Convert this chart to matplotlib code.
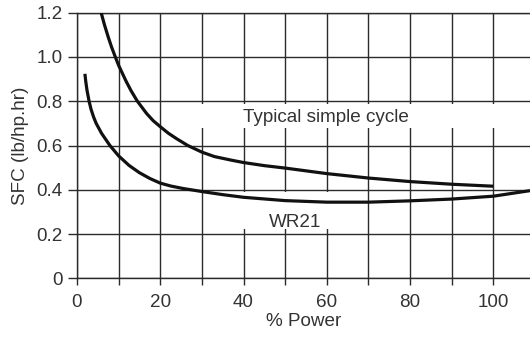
import matplotlib
matplotlib.use("Agg")
import matplotlib.pyplot as plt
from matplotlib.patches import Rectangle

# Data
typ_x = [5.8, 6.6, 7.5, 8.3, 9.2, 10.0, 11.8, 13.0, 14.5, 16.7, 18.3, 20.0, 21.9, 23.9, 26.6, 30.0, 33.0, 37.0, 40.0, 45.0, 50.0, 60.0, 70.0, 80.0, 90.0, 100.0]
typ_y = [1.20, 1.145, 1.09, 1.045, 1.00, 0.962, 0.890, 0.847, 0.800, 0.745, 0.712, 0.685, 0.656, 0.631, 0.600, 0.570, 0.550, 0.534, 0.523, 0.509, 0.498, 0.473, 0.453, 0.437, 0.425, 0.416]

wr_x = [1.9, 2.1, 2.4, 2.9, 3.4, 4.0, 4.6, 5.9, 7.9, 10.0, 12.5, 15.0, 17.5, 20.0, 22.5, 25.4, 30.0, 35.0, 40.0, 50.0, 60.0, 70.0, 80.0, 90.0, 100.0, 108.8]
wr_y = [0.924, 0.89, 0.85, 0.80, 0.762, 0.728, 0.700, 0.655, 0.600, 0.553, 0.510, 0.477, 0.451, 0.430, 0.417, 0.406, 0.392, 0.378, 0.366, 0.351, 0.344, 0.344, 0.350, 0.358, 0.371, 0.396]

x_ticks = [0, 10, 20, 30, 40, 50, 60, 70, 80, 90, 100]
x_labels = ["0", "", "20", "", "40", "", "60", "", "80", "", "100"]
y_ticks = [0, 0.2, 0.4, 0.6, 0.8, 1.0, 1.2]
y_labels = ["0", "0.2", "0.4", "0.6", "0.8", "1.0", "1.2"]

plt.rcParams['font.family'] = ['Liberation Sans', 'DejaVu Sans']
grid_c = '#2b2b2b'
text_c = '#333333'
fs = 13.6

fig = plt.figure(figsize=(5.30, 3.37), dpi=100)
ax = fig.add_axes([77/530, 1 - 278.3/337, 1 - 77/530, (278.3 - 12.7)/337])
ax.set_xlim(0, 108.8)
ax.set_ylim(0, 1.2)

for name, s in ax.spines.items():
    if name == 'right':
        s.set_visible(False)
    else:
        s.set_color(grid_c)
        s.set_linewidth(1.0)

ax.set_xticks(x_ticks)
ax.set_xticklabels(x_labels)
ax.set_yticks(y_ticks)
ax.set_yticklabels(y_labels)
ax.tick_params(axis='x', direction='out', length=5, width=1.0, color=grid_c,
               labelsize=fs, labelcolor=text_c, pad=6)
ax.tick_params(axis='y', direction='out', length=6.5, width=1.0, color=grid_c,
               labelsize=fs, labelcolor=text_c, pad=4)
ax.grid(True, color=grid_c, linewidth=1.0, zorder=0.5)
ax.set_axisbelow(True)

# white label backgrounds that interrupt the grid
ax.add_patch(Rectangle((25, 0.677), 108.8 - 25, 0.789 - 0.677, facecolor='white',
                       edgecolor='none', zorder=1))
ax.add_patch(Rectangle((35, 0.224), 30, 0.391 - 0.224, facecolor='white',
                       edgecolor='none', zorder=1))

ax.plot(typ_x, typ_y, color='#111111', linewidth=2.3, zorder=3,
        solid_capstyle='butt', solid_joinstyle='round')
ax.plot(wr_x, wr_y, color='#111111', linewidth=2.3, zorder=3,
        solid_capstyle='butt', solid_joinstyle='round')

ax.text(39.8, 0.707, "Typical simple cycle", fontsize=fs, color=text_c,
        ha='left', va='baseline', zorder=4)
ax.text(46.0, 0.234, "WR21", fontsize=fs, color=text_c,
        ha='left', va='baseline', zorder=4)

ax.set_xlabel("% Power", fontsize=fs, color=text_c, labelpad=2)
ax.set_ylabel("SFC (lb/hp.hr)", fontsize=fs, color=text_c, labelpad=5)

fig.savefig("out.png", dpi=100)
